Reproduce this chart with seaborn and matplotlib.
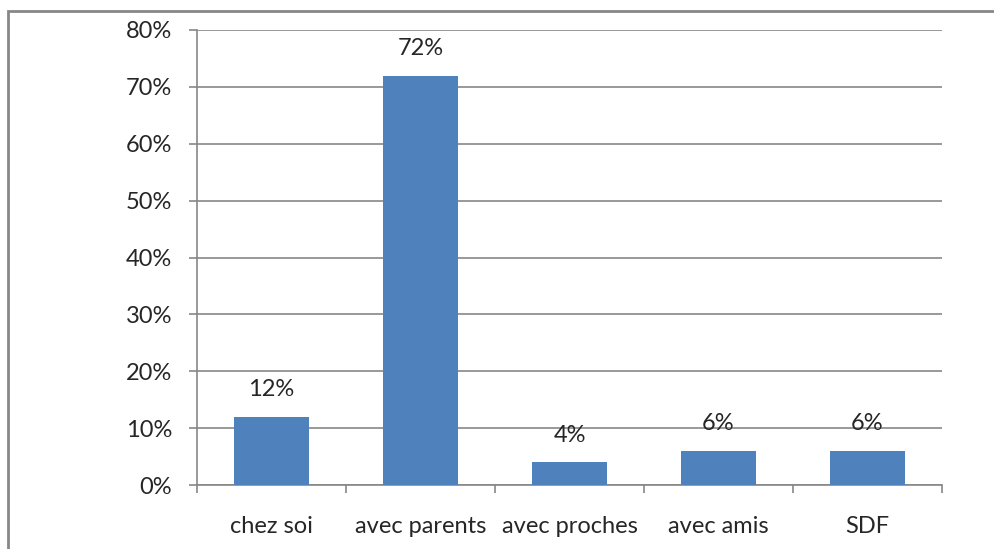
import matplotlib
matplotlib.use("Agg")
import matplotlib.pyplot as plt
import seaborn as sns
import pandas as pd
from matplotlib.patches import Rectangle
from matplotlib.ticker import PercentFormatter, FixedLocator

categories = ["chez soi", "avec parents", "avec proches", "avec amis", "SDF"]
values = [0.12, 0.72, 0.04, 0.06, 0.06]
labels = ["12%", "72%", "4%", "6%", "6%"]

sns.set_style("white")
plt.rcParams["font.family"] = ["Lato", "DejaVu Sans"]

df = pd.DataFrame({"cat": categories, "val": values})

fig = plt.figure(figsize=(9.95, 5.49), dpi=100)
ax = fig.add_axes([197 / 995, 1 - 485 / 549, (942 - 197) / 995, (485 - 30) / 549])

grey = "#878787"
sns.barplot(data=df, x="cat", y="val", color="#4F81BD", saturation=1, width=0.5,
            linewidth=0, ax=ax, zorder=3)

ax.set_ylim(0, 0.8)
ax.set_xlim(-0.5, 4.5)
ax.set_yticks([i / 10 for i in range(9)])
ax.yaxis.set_major_formatter(PercentFormatter(1.0, decimals=0))
ax.yaxis.grid(True, color=grey, linewidth=1.2, zorder=0)
ax.set_axisbelow(True)
ax.set_xlabel("")
ax.set_ylabel("")

for s in ["top", "right"]:
    ax.spines[s].set_visible(False)
for s in ["left", "bottom"]:
    ax.spines[s].set_color(grey)
    ax.spines[s].set_linewidth(1.2)

ax.tick_params(axis="y", length=6, color=grey, width=1.2, labelsize=17, pad=12, left=True)
ax.tick_params(axis="x", length=0, labelsize=17, pad=22)
ax.xaxis.set_minor_locator(FixedLocator([i - 0.5 for i in range(6)]))
ax.tick_params(axis="x", which="minor", length=6, color=grey, width=1.2, bottom=True)

for i, (v, lab) in enumerate(zip(values, labels)):
    ax.annotate(lab, (i, v), xytext=(0, 12), textcoords="offset points",
                ha="center", va="bottom", fontsize=17)

fig.patches.append(Rectangle((8 / 995, -0.1), 1.2, 1 - 11 / 549 + 0.1,
                             transform=fig.transFigure, fill=False,
                             edgecolor=grey, linewidth=2))

fig.savefig("out.png", dpi=100)
